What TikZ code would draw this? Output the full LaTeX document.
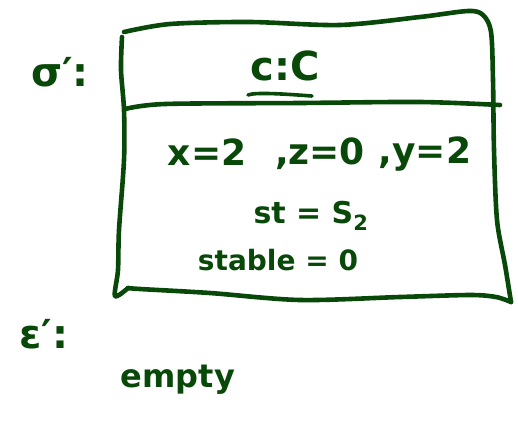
\documentclass[tikz,border=0pt]{standalone}
\usepackage{fontspec}
\setmainfont{DejaVu Sans}
\definecolor{ink}{RGB}{8,72,8}
\tikzset{
  stroke/.style={draw=ink, line width=4.6pt, line cap=round, line join=round},
  hand/.style={text=ink, font=\bfseries, inner sep=0pt, anchor=center},
}
\begin{document}
\begin{tikzpicture}[x=1pt,y=-1pt]
\useasboundingbox (0,0) rectangle (518,429);
% box outline
\draw[stroke] plot[smooth, tension=0.5] coordinates {(124,32) (170,24) (250,22) (340,25) (420,17) (468,11) (483,15) (491,32) (493,80) (494,150) (497,220) (505,265) (511,302)};
\draw[stroke] plot[smooth, tension=0.5] coordinates {(511,302) (496,297) (470,295) (400,297) (300,300) (210,293) (140,289) (128,288)};
\draw[stroke] plot[smooth, tension=0.5] coordinates {(122,37) (121,70) (124,110) (124,160) (119,230) (118,270) (115,296) (128,288)};
% divider
\draw[stroke] plot[smooth, tension=0.5] coordinates {(125,109) (165,104) (300,103) (420,102) (500,105)};
% labels
\node[hand, font=\bfseries\fontsize{40}{40}\selectfont] (sig) at (60,72) {σ′:};
\node[hand, font=\bfseries\fontsize{40}{40}\selectfont] (cls) at (285,66) {c:C};
\coordinate (ul1) at ([xshift=-37pt,yshift=-29pt]cls.center);
\coordinate (ul2) at ([xshift=27pt,yshift=-30pt]cls.center);
\draw[stroke, line width=3.6pt] (ul1) .. controls ([xshift=-30pt,yshift=-26pt]cls.center) and ([xshift=0pt,yshift=-28pt]cls.center) .. (ul2);
\node[hand, font=\bfseries\fontsize{36}{36}\selectfont] (ax) at (207,152) {x=2};
\node[hand, font=\bfseries\fontsize{36}{36}\selectfont] (az) at (320,154) {,z=0};
\node[hand, font=\bfseries\fontsize{36}{36}\selectfont] (ay) at (425,154) {,y=2};
\node[hand, font=\bfseries\fontsize{30}{30}\selectfont] (st) at (311,216) {st = S\textsubscript{2}};
\node[hand, font=\bfseries\fontsize{28}{28}\selectfont] (stab) at (278,260) {stable = 0};
\node[hand, font=\bfseries\fontsize{40}{40}\selectfont] (eps) at (44,334) {ε′:};
\node[hand, font=\bfseries\fontsize{32}{32}\selectfont] (emp) at (178,380) {empty};
\end{tikzpicture}
\end{document}
